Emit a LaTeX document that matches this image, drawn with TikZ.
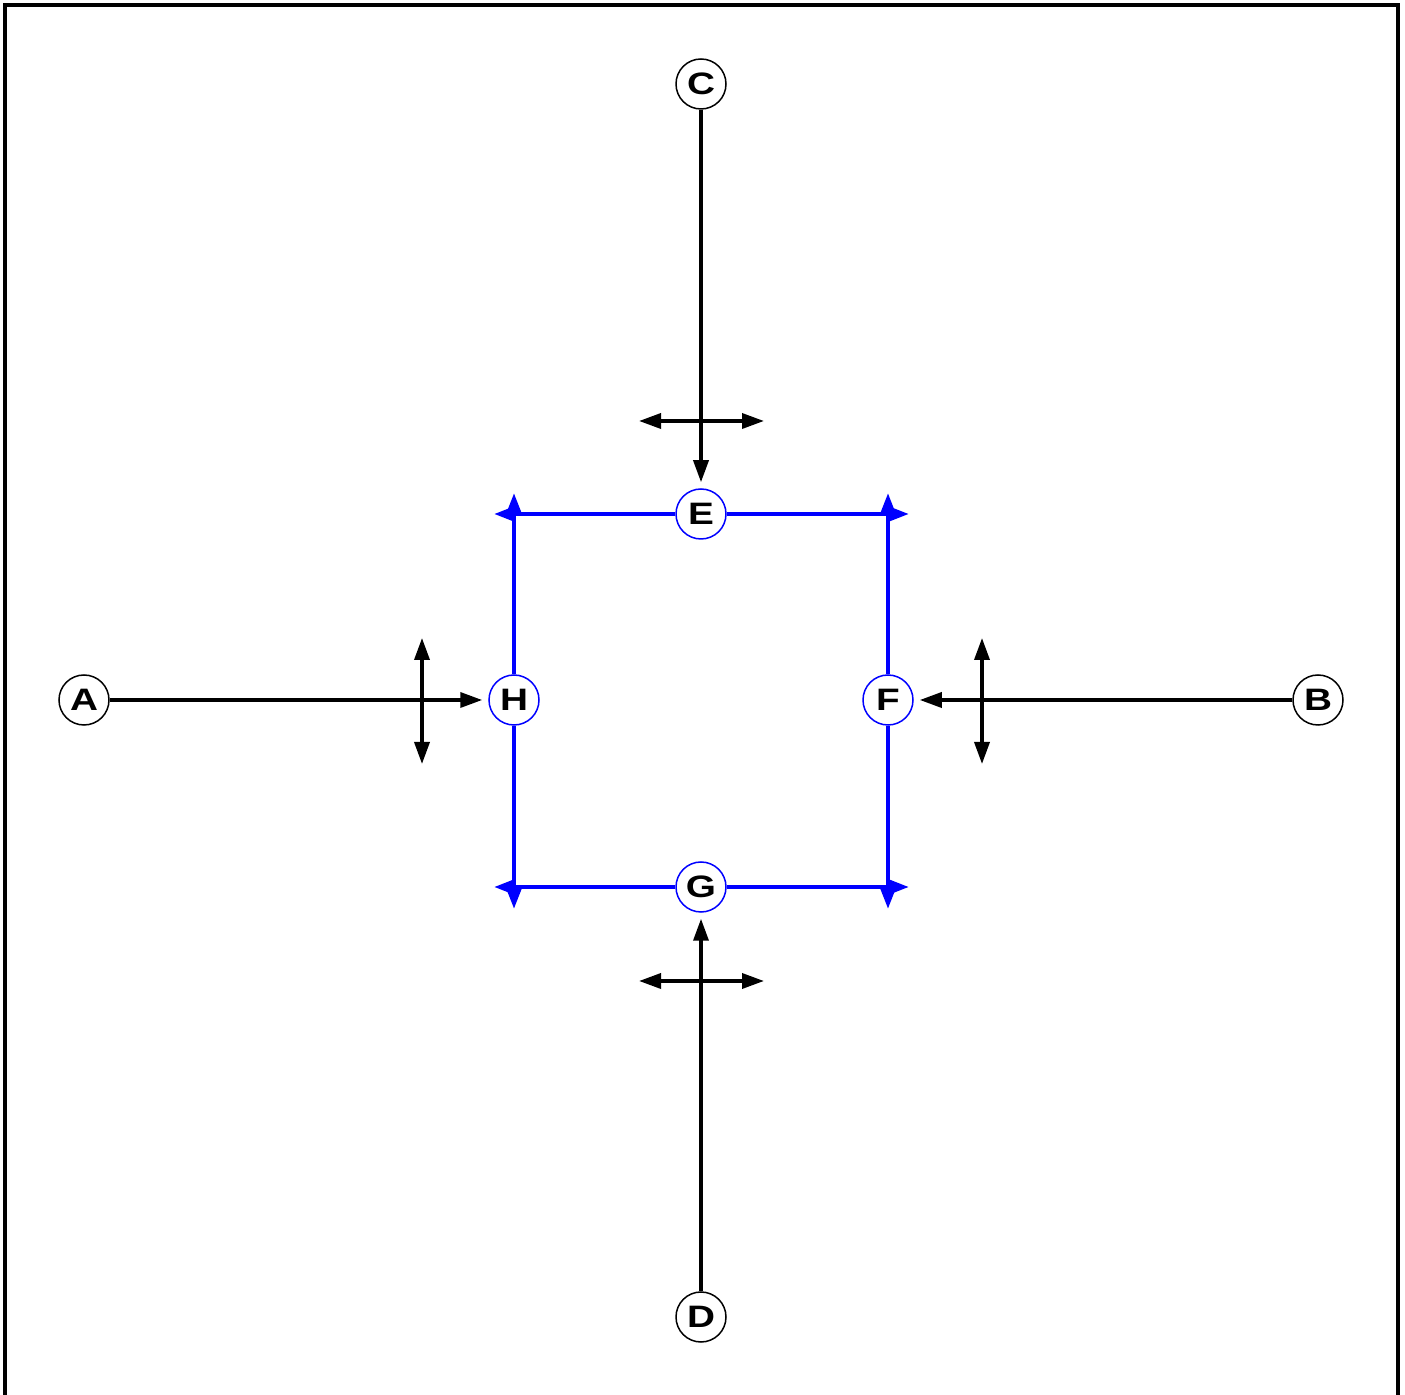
\documentclass[tikz,border=0pt]{standalone}
\usepackage{fontspec}
\setmainfont{Liberation Sans}
\newfontfamily\widefont[FakeStretch=1.25]{Liberation Sans}
\usetikzlibrary{arrows.meta}
\begin{document}
\begin{tikzpicture}[x=0.5pt,y=-0.5pt,
  lbl/.style={circle,draw=black,line width=0.75pt,fill=white,minimum size=25pt,inner sep=0pt,font=\widefont\fontsize{15.5}{15.5}\selectfont\bfseries},
  blbl/.style={lbl,draw=blue},
  conn/.style={line width=1.75pt,-{Triangle[length=11pt,width=7.5pt]},shorten >=3pt},
  dbl/.style={line width=1.75pt,{Triangle[length=11pt,width=7.5pt]}-{Triangle[length=11pt,width=7.5pt]}},
  bline/.style={blue,line width=2pt,-{Triangle[length=10pt,width=7pt]}}]
\useasboundingbox (0,0) rectangle (1405,1395);
\fill[white] (0,0) rectangle (1405,1395);
\draw[line width=2pt] (5,1420) -- (5,5) -- (1398,5) -- (1398,1420);
% corner tip coordinates
\coordinate (tlL) at (494,514); \coordinate (tlU) at (514,493);
\coordinate (trR) at (909,514); \coordinate (trU) at (888,493);
\coordinate (blL) at (494,887); \coordinate (blD) at (514,909);
\coordinate (brR) at (909,887); \coordinate (brD) at (888,909);
% cross coordinates
\coordinate (aU) at (422,638); \coordinate (aD) at (422,764);
\coordinate (bU) at (982,638); \coordinate (bD) at (982,764);
\coordinate (cL) at (639,421); \coordinate (cR) at (764,421);
\coordinate (dL) at (639,981); \coordinate (dR) at (764,981);
% nodes
\node[blbl] (E) at (701,514) {E};
\node[blbl] (F) at (888,700) {F};
\node[blbl] (G) at (701,887) {G};
\node[blbl] (H) at (514,700) {H};
\node[lbl] (A) at (84,700) {A};
\node[lbl] (B) at (1318,700) {B};
\node[lbl] (C) at (701,84) {C};
\node[lbl] (D) at (701,1317) {D};
% blue square
\draw[bline] (E) -- (tlL);
\draw[bline] (E) -- (trR);
\draw[bline] (H) -- (tlU);
\draw[bline] (H) -- (blD);
\draw[bline] (F) -- (trU);
\draw[bline] (F) -- (brD);
\draw[bline] (G) -- (blL);
\draw[bline] (G) -- (brR);
% black connectors
\draw[conn] (A) -- (H);
\draw[conn] (B) -- (F);
\draw[conn] (C) -- (E);
\draw[conn] (D) -- (G);
% crosses
\draw[dbl] (aU) -- (aD);
\draw[dbl] (bU) -- (bD);
\draw[dbl] (cL) -- (cR);
\draw[dbl] (dL) -- (dR);
\end{tikzpicture}
\end{document}
